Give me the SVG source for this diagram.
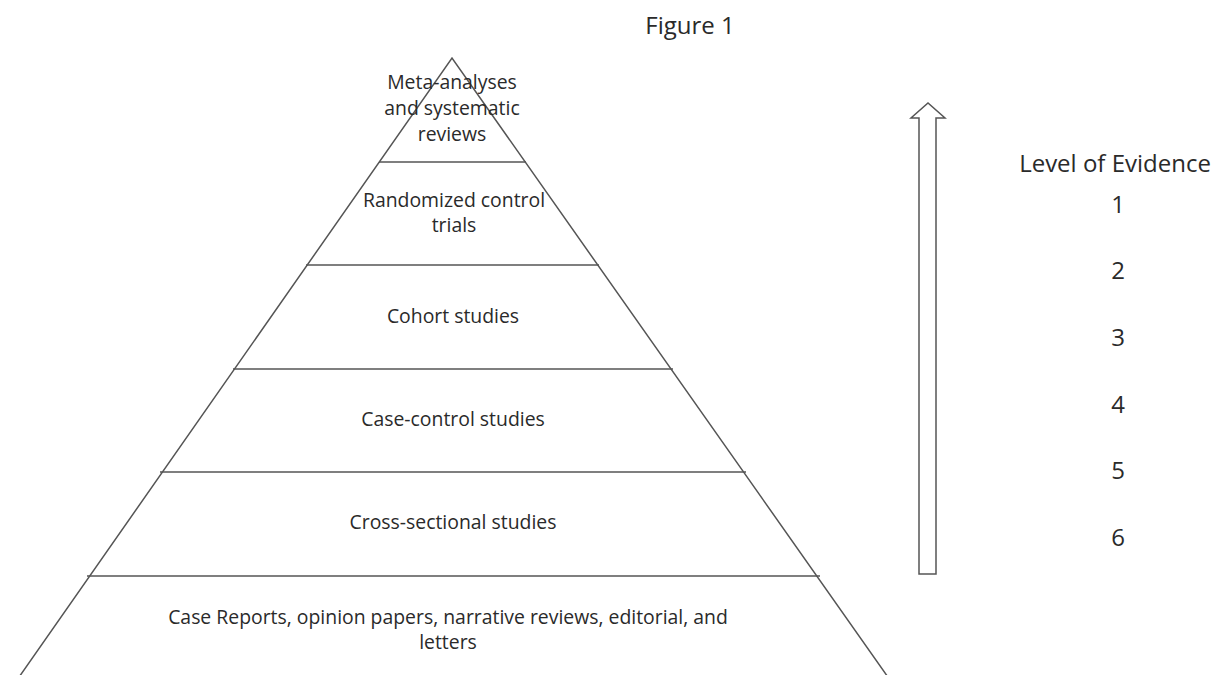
<svg xmlns="http://www.w3.org/2000/svg" width="1216" height="675" viewBox="0 0 1216 675">
<style>
text{font-family:"Open Sans","Liberation Sans",sans-serif;fill:#2a2a2a;text-anchor:middle}
.t{font-size:19.4px}
.h{font-size:24px}
.ln{stroke:#555;stroke-width:1.5;fill:none}
</style>
<rect width="1216" height="675" fill="#fff"/>
<text class="h" x="690" y="34">Figure 1</text>
<g id="pyramid">
<path class="ln" d="M17,680 L452,58 L890,680"/>
<g id="dividers">
<line class="ln" x1="379" y1="162" x2="526" y2="162"/>
<line class="ln" x1="306" y1="265" x2="599" y2="265"/>
<line class="ln" x1="233" y1="369" x2="673" y2="369"/>
<line class="ln" x1="160" y1="472" x2="746" y2="472"/>
<line class="ln" x1="87" y1="576" x2="820" y2="576"/>
</g>
</g>
<g id="level1"><text class="t" x="452" y="89">Meta-analyses</text><text class="t" x="452" y="115">and systematic</text><text class="t" x="452" y="141">reviews</text></g>
<g id="level2"><text class="t" x="454" y="207">Randomized control</text><text class="t" x="454" y="232">trials</text></g>
<g id="level3"><text class="t" x="453" y="323">Cohort studies</text></g>
<g id="level4"><text class="t" x="453" y="426">Case-control studies</text></g>
<g id="level5"><text class="t" x="453" y="529">Cross-sectional studies</text></g>
<g id="level6"><text class="t" x="448" y="624">Case Reports, opinion papers, narrative reviews, editorial, and</text><text class="t" x="448" y="649">letters</text></g>
<g id="arrow"><path class="ln" d="M919,574 L919,118 L911,118 L928,103 L945,118 L936,118 L936,574 Z"/></g>
<g id="scale">
<text class="h" x="1115" y="172">Level of Evidence</text>
<text class="h" x="1118" y="213">1</text>
<text class="h" x="1118" y="279">2</text>
<text class="h" x="1118" y="346">3</text>
<text class="h" x="1118" y="413">4</text>
<text class="h" x="1118" y="479">5</text>
<text class="h" x="1118" y="546">6</text>
</g>
</svg>
